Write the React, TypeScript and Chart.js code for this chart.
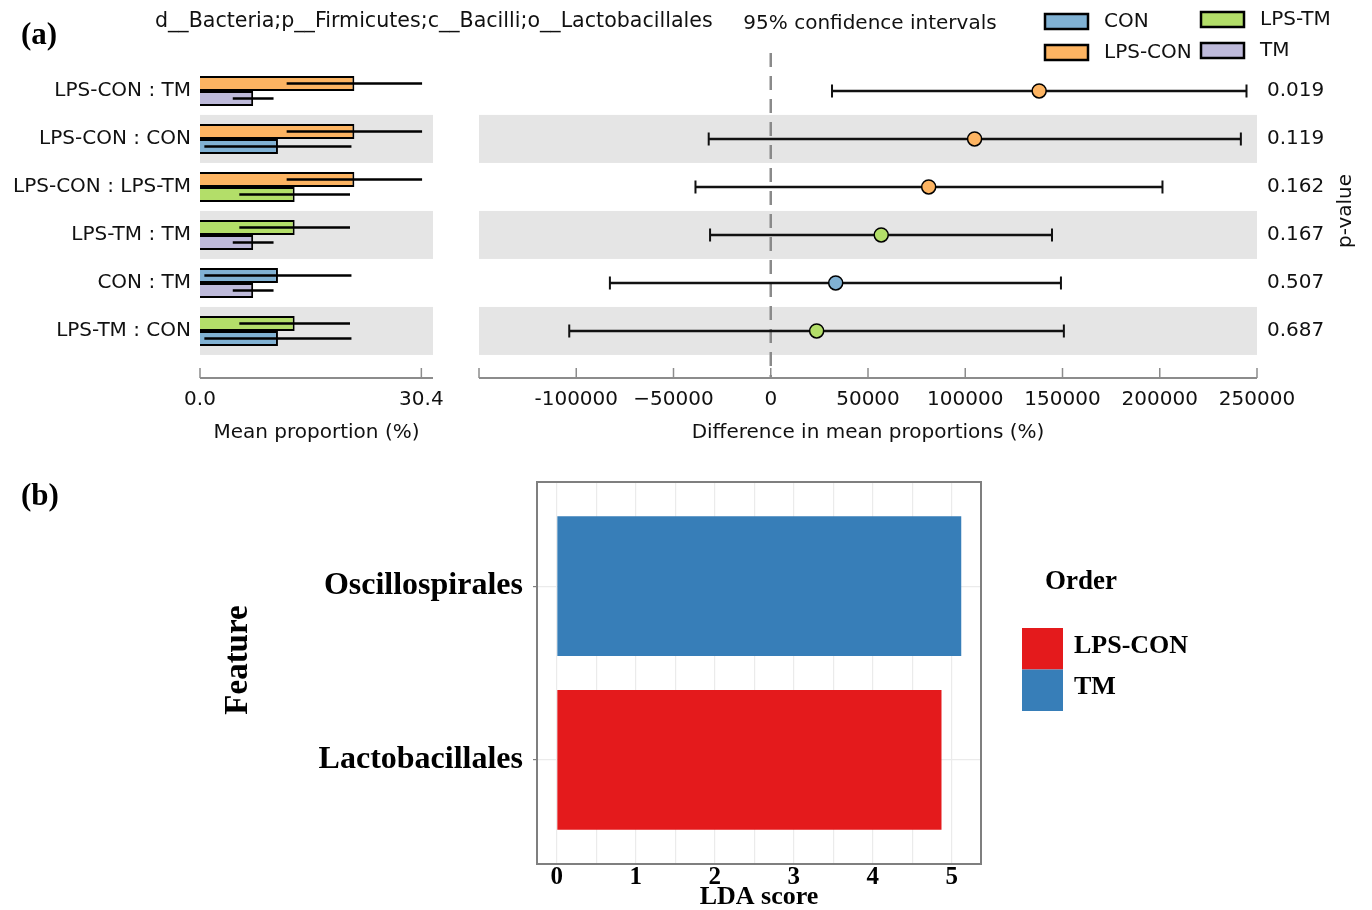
import React, { useEffect, useRef } from 'react';
import { Chart, registerables } from 'chart.js';

Chart.register(...registerables);

// ---------- Data: panel (a) ----------
const groups = ['CON', 'LPS-CON', 'LPS-TM', 'TM'];
const groupColors = ['#80B1D3', '#FDB462', '#B3DE69', '#BEBADA'];
const groupMeans = [10.7, 21.2, 13.0, 7.3];
const groupSd = [10.1, 9.3, 7.6, 2.8];

const comparisons = ['LPS-CON : TM', 'LPS-CON : CON', 'LPS-CON : LPS-TM', 'LPS-TM : TM', 'CON : TM', 'LPS-TM : CON'];
const firstGroup = [1, 1, 1, 2, 0, 2];
const secondGroup = [3, 0, 2, 3, 3, 0];

const diffMeans = [138000, 104800, 81200, 56800, 33400, 23600];
const ciLower = [31500, -31900, -38700, -31200, -82700, -103600];
const ciUpper = [244600, 241700, 201400, 144600, 149200, 150700];
const pValues = ['0.019', '0.119', '0.162', '0.167', '0.507', '0.687'];

const meanTicks = [0, 30.4];
const meanTickLabels = ['0.0', '30.4'];
const diffTicks = [-150000, -100000, -50000, 0, 50000, 100000, 150000, 200000, 250000];
const diffTickLabels = ['', '-100000', '\u221250000', '0', '50000', '100000', '150000', '200000', '250000'];

const headerText = 'd__Bacteria;p__Firmicutes;c__Bacilli;o__Lactobacillales';

// ---------- Data: panel (b) ----------
const features = ['Lactobacillales', 'Oscillospirales'];
const ldaScores = [4.87, 5.12];
const featureClass = ['LPS-CON', 'TM'];
const ldaClasses = ['LPS-CON', 'TM'];
const ldaClassColors = ['#E41A1C', '#377EB8'];
const ldaTicks = [0, 1, 2, 3, 4, 5];

// ---------- Styling ----------
const SANS = "'DejaVu Sans', 'Liberation Sans', sans-serif";
const SERIF = "'Liberation Serif', 'Times New Roman', serif";
const TXT = '#111111';
const Y_MIN = -0.79;
const Y_MAX = 5.98;

const bandsPlugin = {
  id: 'bands',
  beforeDatasetsDraw(chart: any) {
    const { ctx, chartArea, scales } = chart;
    const y = scales.y;
    ctx.save();
    ctx.fillStyle = '#E5E5E5';
    comparisons.forEach((_, i) => {
      if (i % 2 === 1) {
        const t = y.getPixelForValue(i - 0.5);
        const b = y.getPixelForValue(i + 0.5);
        ctx.fillRect(chartArea.left, Math.min(t, b), chartArea.right - chartArea.left, Math.abs(b - t));
      }
    });
    ctx.restore();
  },
};

const bottomAxisPlugin = {
  id: 'bottomAxis',
  afterDraw(chart: any) {
    const { ctx, chartArea, scales } = chart;
    const x = scales.x;
    ctx.save();
    ctx.strokeStyle = '#8C8C8C';
    ctx.lineWidth = 2;
    ctx.beginPath();
    ctx.moveTo(chartArea.left, chartArea.bottom);
    ctx.lineTo(chartArea.right, chartArea.bottom);
    ctx.stroke();
    ctx.lineWidth = 1.5;
    x.ticks.forEach((t: any) => {
      const px = x.getPixelForValue(t.value);
      ctx.beginPath();
      ctx.moveTo(px, chartArea.bottom);
      ctx.lineTo(px, chartArea.bottom - 10);
      ctx.stroke();
    });
    ctx.restore();
  },
};

function makeMeanChart(canvas: HTMLCanvasElement) {
  const errorBars = {
    id: 'meanErrorBars',
    afterDatasetsDraw(chart: any) {
      const { ctx, scales } = chart;
      const x = scales.x;
      ctx.save();
      ctx.strokeStyle = '#000';
      ctx.lineWidth = 2.5;
      chart.data.datasets.forEach((_: any, di: number) => {
        const meta = chart.getDatasetMeta(di);
        const idx = di === 0 ? firstGroup : secondGroup;
        meta.data.forEach((bar: any, i: number) => {
          const g = idx[i];
          const x0 = x.getPixelForValue(Math.max(0, groupMeans[g] - groupSd[g]));
          const x1 = x.getPixelForValue(groupMeans[g] + groupSd[g]);
          ctx.beginPath();
          ctx.moveTo(x0, bar.y);
          ctx.lineTo(x1, bar.y);
          ctx.stroke();
        });
      });
      ctx.restore();
    },
  };
  const texts = {
    id: 'headerTexts',
    afterDraw(chart: any) {
      const { ctx } = chart;
      ctx.save();
      ctx.fillStyle = '#000';
      ctx.textBaseline = 'middle';
      ctx.textAlign = 'left';
      ctx.font = `bold 31px ${SERIF}`;
      ctx.fillText('(a)', 21, 36);
      ctx.fillStyle = TXT;
      ctx.font = `20.6px ${SANS}`;
      ctx.fillText(headerText, 155, 22);
      ctx.restore();
    },
  };
  return new Chart(canvas, {
    type: 'bar',
    data: {
      datasets: [
        {
          label: 'first',
          data: comparisons.map((_, i) => ({ x: groupMeans[firstGroup[i]], y: i })),
          backgroundColor: firstGroup.map((g) => groupColors[g]),
          borderColor: '#000',
          borderWidth: 2,
          barPercentage: 1,
          categoryPercentage: 0.625,
        },
        {
          label: 'second',
          data: comparisons.map((_, i) => ({ x: groupMeans[secondGroup[i]], y: i })),
          backgroundColor: secondGroup.map((g) => groupColors[g]),
          borderColor: '#000',
          borderWidth: 2,
          barPercentage: 1,
          categoryPercentage: 0.625,
        },
      ],
    } as any,
    options: {
      indexAxis: 'y',
      animation: false,
      responsive: false,
      maintainAspectRatio: false,
      layout: { padding: { left: 0, right: 327, top: 53, bottom: 0 } },
      plugins: { legend: { display: false }, tooltip: { enabled: false }, title: { display: false } },
      scales: {
        x: {
          type: 'linear',
          min: 0,
          max: 32,
          offset: false,
          afterBuildTicks: (s: any) => {
            s.ticks = meanTicks.map((v) => ({ value: v }));
          },
          afterFit: (s: any) => {
            s.height = 82;
          },
          grid: { display: false, drawTicks: false, offset: false },
          border: { display: false },
          ticks: {
            padding: 10,
            autoSkip: false,
            maxRotation: 0,
            color: TXT,
            font: { family: SANS, size: 20 },
            callback: (_v: any, i: number) => meanTickLabels[i],
          },
          title: {
            display: true,
            text: 'Mean proportion (%)',
            color: TXT,
            font: { family: SANS, size: 20 },
            padding: { top: 0, bottom: 15 },
          },
        },
        y: {
          type: 'linear',
          reverse: true,
          min: Y_MIN,
          max: Y_MAX,
          offset: false,
          afterBuildTicks: (s: any) => {
            s.ticks = comparisons.map((_, i) => ({ value: i }));
          },
          afterFit: (s: any) => {
            s.width = 200;
          },
          grid: { display: false, drawTicks: false, offset: false },
          border: { display: false },
          ticks: {
            padding: 9,
            autoSkip: false,
            color: TXT,
            font: { family: SANS, size: 20 },
            callback: (v: any) => comparisons[v],
          },
        },
      },
    } as any,
    plugins: [bandsPlugin, errorBars, bottomAxisPlugin, texts],
  });
}

function makeDiffChart(canvas: HTMLCanvasElement) {
  const ciPlugin = {
    id: 'ciBars',
    beforeDatasetsDraw(chart: any) {
      const { ctx, chartArea, scales } = chart;
      const x = scales.x;
      const y = scales.y;
      ctx.save();
      const zx = x.getPixelForValue(0);
      ctx.strokeStyle = '#8A8A8A';
      ctx.lineWidth = 2.5;
      ctx.setLineDash([14, 9]);
      ctx.beginPath();
      ctx.moveTo(zx, chartArea.top);
      ctx.lineTo(zx, chartArea.bottom);
      ctx.stroke();
      ctx.setLineDash([]);
      ctx.strokeStyle = '#111';
      comparisons.forEach((_, i) => {
        const py = y.getPixelForValue(i);
        const x0 = x.getPixelForValue(ciLower[i]);
        const x1 = x.getPixelForValue(ciUpper[i]);
        ctx.lineWidth = 2.5;
        ctx.beginPath();
        ctx.moveTo(x0, py);
        ctx.lineTo(x1, py);
        ctx.stroke();
        ctx.lineWidth = 2;
        ctx.beginPath();
        ctx.moveTo(x0, py - 6.5);
        ctx.lineTo(x0, py + 6.5);
        ctx.moveTo(x1, py - 6.5);
        ctx.lineTo(x1, py + 6.5);
        ctx.stroke();
      });
      ctx.restore();
    },
  };
  const texts = {
    id: 'diffTexts',
    afterDraw(chart: any) {
      const { ctx, scales } = chart;
      const y = scales.y;
      ctx.save();
      ctx.fillStyle = TXT;
      ctx.textBaseline = 'middle';
      ctx.font = `20px ${SANS}`;
      ctx.textAlign = 'center';
      ctx.fillText('95% confidence intervals', 410, 24);
      ctx.save();
      ctx.translate(886, (y.getPixelForValue(-0.5) + y.getPixelForValue(5.5)) / 2);
      ctx.rotate(-Math.PI / 2);
      ctx.fillText('p-value', 0, 0);
      ctx.restore();
      const colX = [585, 741];
      const rowY = [[14, 45], [12, 43]];
      ctx.textAlign = 'left';
      groups.forEach((g, gi) => {
        const c = Math.floor(gi / 2);
        const r = gi % 2;
        const bx = colX[c];
        const by = rowY[c][r];
        ctx.fillStyle = groupColors[gi];
        ctx.fillRect(bx, by, 43, 15);
        ctx.strokeStyle = '#000';
        ctx.lineWidth = 2.5;
        ctx.strokeRect(bx, by, 43, 15);
        ctx.fillStyle = TXT;
        ctx.fillText(g, bx + 59, by + 7.5);
      });
      ctx.restore();
    },
  };
  return new Chart(canvas, {
    type: 'scatter',
    data: {
      datasets: [
        {
          label: 'difference',
          data: comparisons.map((_, i) => ({ x: diffMeans[i], y: i })),
          pointBackgroundColor: firstGroup.map((g) => groupColors[g]),
          pointBorderColor: '#000',
          pointBorderWidth: 1.5,
          pointRadius: 7,
          showLine: false,
        },
      ],
    } as any,
    options: {
      animation: false,
      responsive: false,
      maintainAspectRatio: false,
      layout: { padding: { left: 19, right: 0, top: 53, bottom: 0 } },
      plugins: { legend: { display: false }, tooltip: { enabled: false } },
      scales: {
        x: {
          type: 'linear',
          min: diffTicks[0],
          max: diffTicks[diffTicks.length - 1],
          offset: false,
          afterBuildTicks: (s: any) => {
            s.ticks = diffTicks.map((v) => ({ value: v }));
          },
          afterFit: (s: any) => {
            s.height = 82;
          },
          grid: { display: false, drawTicks: false },
          border: { display: false },
          ticks: {
            padding: 10,
            autoSkip: false,
            maxRotation: 0,
            color: TXT,
            font: { family: SANS, size: 20 },
            callback: (_v: any, i: number) => diffTickLabels[i],
          },
          title: {
            display: true,
            text: 'Difference in mean proportions (%)',
            color: TXT,
            font: { family: SANS, size: 20 },
            padding: { top: 0, bottom: 15 },
          },
        },
        y: {
          type: 'linear',
          position: 'right',
          reverse: true,
          min: Y_MIN,
          max: Y_MAX,
          offset: false,
          afterBuildTicks: (s: any) => {
            s.ticks = pValues.map((_, i) => ({ value: i }));
          },
          afterFit: (s: any) => {
            s.width = 115;
          },
          grid: { display: false, drawTicks: false },
          border: { display: false },
          ticks: {
            padding: 10,
            autoSkip: false,
            color: TXT,
            font: { family: SANS, size: 20 },
            callback: (v: any) => pValues[v],
          },
        },
      },
    } as any,
    plugins: [bandsPlugin, ciPlugin, bottomAxisPlugin, texts],
  });
}

function makeLdaChart(canvas: HTMLCanvasElement) {
  const frame = {
    id: 'frame',
    afterDatasetsDraw(chart: any) {
      const { ctx, chartArea } = chart;
      ctx.save();
      ctx.strokeStyle = '#7F7F7F';
      ctx.lineWidth = 2;
      ctx.strokeRect(chartArea.left, chartArea.top, chartArea.right - chartArea.left, chartArea.bottom - chartArea.top);
      ctx.restore();
    },
  };
  const texts = {
    id: 'ldaTexts',
    afterDraw(chart: any) {
      const { ctx } = chart;
      ctx.save();
      ctx.fillStyle = '#000';
      ctx.textBaseline = 'middle';
      ctx.textAlign = 'left';
      ctx.font = `bold 31px ${SERIF}`;
      ctx.fillText('(b)', 21, 37);
      ctx.save();
      ctx.translate(238, 200);
      ctx.rotate(-Math.PI / 2);
      ctx.textAlign = 'center';
      ctx.font = `bold 33px ${SERIF}`;
      ctx.fillText('Feature', 0, 0);
      ctx.restore();
      ctx.font = `bold 27px ${SERIF}`;
      ctx.fillText('Order', 1045, 122);
      ctx.font = `bold 26px ${SERIF}`;
      ldaClasses.forEach((c, i) => {
        ctx.fillStyle = ldaClassColors[i];
        ctx.fillRect(1022, 168 + i * 41.5, 41, 41.5);
        ctx.fillStyle = '#000';
        ctx.fillText(c, 1074, 186 + i * 41);
      });
      ctx.restore();
    },
  };
  return new Chart(canvas, {
    type: 'bar',
    data: {
      datasets: [
        {
          label: 'LDA',
          data: features.map((_, i) => ({ x: ldaScores[i], y: i + 1 })),
          backgroundColor: featureClass.map((c) => ldaClassColors[ldaClasses.indexOf(c)]),
          borderWidth: 0,
          barPercentage: 0.805,
          categoryPercentage: 1,
        },
      ],
    } as any,
    options: {
      indexAxis: 'y',
      animation: false,
      responsive: false,
      maintainAspectRatio: false,
      layout: { padding: { left: 0, right: 391, top: 22, bottom: 0 } },
      plugins: { legend: { display: false }, tooltip: { enabled: false } },
      scales: {
        x: {
          type: 'linear',
          min: -0.25,
          max: 5.37,
          offset: false,
          afterBuildTicks: (s: any) => {
            const t: any[] = [];
            ldaTicks.forEach((v, i) => {
              t.push({ value: v });
              if (i < ldaTicks.length - 1) t.push({ value: (v + ldaTicks[i + 1]) / 2 });
            });
            s.ticks = t;
          },
          afterFit: (s: any) => {
            s.height = 46;
          },
          grid: { color: '#EBEBEB', lineWidth: 1.2, drawTicks: false, offset: false },
          border: { display: false },
          ticks: {
            padding: 1,
            autoSkip: false,
            maxRotation: 0,
            color: '#000',
            font: { family: SERIF, size: 25, weight: 'bold', lineHeight: 1 },
            callback: (v: any) => (Number.isInteger(v) ? String(v) : ''),
          },
          title: {
            display: true,
            text: 'LDA score',
            color: '#000',
            font: { family: SERIF, size: 26, weight: 'bold', lineHeight: 1 },
            padding: { top: 0, bottom: 0 },
          },
        },
        y: {
          type: 'linear',
          min: 0.4,
          max: 2.6,
          offset: false,
          afterBuildTicks: (s: any) => {
            s.ticks = features.map((_, i) => ({ value: i + 1 }));
          },
          afterFit: (s: any) => {
            s.width = 537;
          },
          grid: { color: '#EBEBEB', lineWidth: 1.2, drawTicks: true, tickLength: 4, tickColor: '#7F7F7F', offset: false },
          border: { display: false },
          ticks: {
            padding: 10,
            autoSkip: false,
            color: '#000',
            font: { family: SERIF, size: 32, weight: 'bold', lineHeight: 0.5 },
            callback: (v: any) => features[v - 1],
          },
        },
      },
    } as any,
    plugins: [frame, texts],
  });
}

export default function App() {
  const aRef = useRef<HTMLCanvasElement>(null);
  const bRef = useRef<HTMLCanvasElement>(null);
  const cRef = useRef<HTMLCanvasElement>(null);

  useEffect(() => {
    const charts: Chart[] = [];
    if (aRef.current) charts.push(makeMeanChart(aRef.current));
    if (bRef.current) charts.push(makeDiffChart(bRef.current));
    if (cRef.current) charts.push(makeLdaChart(cRef.current));
    return () => charts.forEach((c) => c.destroy());
  }, []);

  return (
    <div style={{ position: 'absolute', left: 0, top: 0, width: 1372, height: 910, background: '#fff', overflow: 'hidden' }}>
      <canvas ref={aRef} width={760} height={460} style={{ position: 'absolute', left: 0, top: 0 }} />
      <canvas ref={bRef} width={912} height={460} style={{ position: 'absolute', left: 460, top: 0 }} />
      <canvas ref={cRef} width={1372} height={450} style={{ position: 'absolute', left: 0, top: 460 }} />
    </div>
  );
}
